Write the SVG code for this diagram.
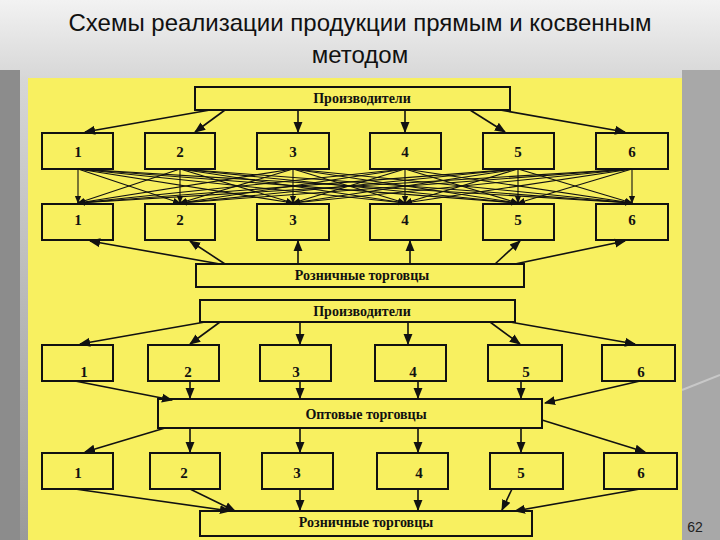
<svg xmlns="http://www.w3.org/2000/svg" width="720" height="540" viewBox="0 0 720 540">
<defs>
<linearGradient id="bg" x1="0" y1="0" x2="0" y2="1"><stop offset="0" stop-color="#f2f2f2"/><stop offset="0.15" stop-color="#d6d6d6"/><stop offset="1" stop-color="#9a9a9a"/></linearGradient>
<marker id="a" viewBox="0 0 10 10" refX="9" refY="5" markerWidth="7" markerHeight="7" orient="auto-start-reverse"><path d="M0,1 L10,5 L0,9 z" fill="#111"/></marker>
<style>
.b{fill:#f8f060;stroke:#111;stroke-width:2}
.t{font-family:"Liberation Serif",serif;font-weight:bold;font-size:14px;fill:#111;text-anchor:middle}
.n{font-family:"Liberation Serif",serif;font-weight:bold;font-size:15px;fill:#111;text-anchor:middle}
.c line{stroke:#111;stroke-width:1.6;marker-end:url(#a)}
.x line{stroke:#111;stroke-width:1.1;marker-end:url(#a)}
</style>
</defs>
<rect width="720" height="540" fill="url(#bg)"/>
<rect x="0" y="70" width="20" height="470" fill="#8c8c8c"/>
<rect x="682" y="70" width="38" height="470" fill="#a8a8a8"/>
<line x1="682" y1="390" x2="720" y2="375" stroke="#c8c8c8" stroke-width="2"/>
<rect x="28" y="78" width="654" height="462" fill="#f8f060"/>
<text x="360" y="31" font-family="Liberation Sans,sans-serif" font-size="24" fill="#111" text-anchor="middle">Схемы реализации продукции прямым и косвенным</text>
<text x="360" y="63" font-family="Liberation Sans,sans-serif" font-size="24" fill="#111" text-anchor="middle">методом</text>
<text x="695" y="532" font-family="Liberation Sans,sans-serif" font-size="14" fill="#222" text-anchor="middle">62</text>

<g id="prod1"><rect class="b" x="195" y="87" width="315" height="23"/><text class="t" x="362" y="103">Производители</text></g>
<g id="r1"><rect class="b" x="42" y="133" width="71" height="36"/><text class="n" x="78" y="157">1</text><rect class="b" x="145" y="133" width="70" height="36"/><text class="n" x="180" y="157">2</text><rect class="b" x="257" y="133" width="72" height="36"/><text class="n" x="293" y="157">3</text><rect class="b" x="370" y="133" width="71" height="36"/><text class="n" x="405" y="157">4</text><rect class="b" x="483" y="133" width="71" height="36"/><text class="n" x="518" y="157">5</text><rect class="b" x="596" y="133" width="72" height="36"/><text class="n" x="632" y="157">6</text></g>
<g id="r2"><rect class="b" x="42" y="204" width="71" height="36"/><text class="n" x="78" y="225">1</text><rect class="b" x="145" y="204" width="70" height="36"/><text class="n" x="180" y="225">2</text><rect class="b" x="257" y="204" width="72" height="36"/><text class="n" x="293" y="225">3</text><rect class="b" x="370" y="204" width="71" height="36"/><text class="n" x="405" y="225">4</text><rect class="b" x="483" y="204" width="71" height="36"/><text class="n" x="518" y="225">5</text><rect class="b" x="596" y="204" width="72" height="36"/><text class="n" x="632" y="225">6</text></g>
<g id="ret1"><rect class="b" x="196" y="264" width="328" height="23"/><text class="t" x="362" y="280">Розничные торговцы</text></g>
<g id="prod2"><rect class="b" x="200" y="300" width="315" height="22"/><text class="t" x="362" y="316">Производители</text></g>
<g id="r3"><rect class="b" x="42" y="345" width="71" height="36"/><text class="n" x="84" y="377">1</text><rect class="b" x="148" y="345" width="71" height="36"/><text class="n" x="188" y="377">2</text><rect class="b" x="260" y="345" width="71" height="36"/><text class="n" x="296" y="377">3</text><rect class="b" x="375" y="345" width="71" height="36"/><text class="n" x="413" y="377">4</text><rect class="b" x="488" y="345" width="74" height="36"/><text class="n" x="526" y="377">5</text><rect class="b" x="602" y="345" width="73" height="36"/><text class="n" x="641" y="377">6</text></g>
<g id="whole"><rect class="b" x="158" y="399" width="384" height="29"/><text class="t" x="366" y="419">Оптовые торговцы</text></g>
<g id="r4"><rect class="b" x="42" y="453" width="71" height="36"/><text class="n" x="78" y="478">1</text><rect class="b" x="150" y="453" width="70" height="36"/><text class="n" x="184" y="478">2</text><rect class="b" x="262" y="453" width="71" height="36"/><text class="n" x="297" y="478">3</text><rect class="b" x="377" y="453" width="71" height="36"/><text class="n" x="419" y="478">4</text><rect class="b" x="490" y="453" width="73" height="36"/><text class="n" x="521" y="478">5</text><rect class="b" x="604" y="453" width="73" height="36"/><text class="n" x="641" y="478">6</text></g>
<g id="ret2"><rect class="b" x="200" y="511" width="332" height="25"/><text class="t" x="366" y="527">Розничные торговцы</text></g>

<g id="connectors">
<g class="c">
<line x1="210" y1="110" x2="85" y2="132"/><line x1="225" y1="110" x2="195" y2="132"/><line x1="298" y1="110" x2="298" y2="132"/><line x1="405" y1="110" x2="405" y2="132"/><line x1="470" y1="110" x2="505" y2="132"/><line x1="500" y1="110" x2="625" y2="132"/>
<line x1="220" y1="264" x2="90" y2="241"/><line x1="225" y1="264" x2="190" y2="241"/><line x1="298" y1="264" x2="298" y2="241"/><line x1="410" y1="264" x2="410" y2="241"/><line x1="495" y1="264" x2="520" y2="241"/><line x1="515" y1="264" x2="625" y2="241"/>
<line x1="205" y1="322" x2="80" y2="344"/><line x1="220" y1="322" x2="190" y2="344"/><line x1="300" y1="322" x2="300" y2="344"/><line x1="408" y1="322" x2="408" y2="344"/><line x1="490" y1="322" x2="520" y2="344"/><line x1="510" y1="322" x2="635" y2="344"/>
<line x1="75" y1="381" x2="172" y2="400"/><line x1="190" y1="381" x2="190" y2="398"/><line x1="300" y1="381" x2="300" y2="398"/><line x1="418" y1="381" x2="418" y2="398"/><line x1="521" y1="381" x2="521" y2="398"/><line x1="640" y1="381" x2="545" y2="403"/>
<line x1="165" y1="428" x2="85" y2="452"/><line x1="190" y1="428" x2="190" y2="452"/><line x1="300" y1="428" x2="300" y2="452"/><line x1="418" y1="428" x2="418" y2="452"/><line x1="521" y1="428" x2="521" y2="452"/><line x1="542" y1="420" x2="645" y2="452"/>
<line x1="75" y1="489" x2="230" y2="511"/><line x1="190" y1="489" x2="235" y2="511"/><line x1="300" y1="489" x2="300" y2="510"/><line x1="418" y1="489" x2="418" y2="510"/><line x1="512" y1="489" x2="502" y2="510"/><line x1="640" y1="489" x2="515" y2="511"/>
</g>
<g class="x">
<line x1="78" y1="169" x2="78" y2="203"/><line x1="78" y1="169" x2="180" y2="203"/><line x1="78" y1="169" x2="293" y2="203"/><line x1="78" y1="169" x2="405" y2="203"/><line x1="78" y1="169" x2="518" y2="203"/><line x1="78" y1="169" x2="632" y2="203"/>
<line x1="180" y1="169" x2="78" y2="203"/><line x1="180" y1="169" x2="180" y2="203"/><line x1="180" y1="169" x2="293" y2="203"/><line x1="180" y1="169" x2="405" y2="203"/><line x1="180" y1="169" x2="518" y2="203"/><line x1="180" y1="169" x2="632" y2="203"/>
<line x1="293" y1="169" x2="78" y2="203"/><line x1="293" y1="169" x2="180" y2="203"/><line x1="293" y1="169" x2="293" y2="203"/><line x1="293" y1="169" x2="405" y2="203"/><line x1="293" y1="169" x2="518" y2="203"/><line x1="293" y1="169" x2="632" y2="203"/>
<line x1="405" y1="169" x2="78" y2="203"/><line x1="405" y1="169" x2="180" y2="203"/><line x1="405" y1="169" x2="293" y2="203"/><line x1="405" y1="169" x2="405" y2="203"/><line x1="405" y1="169" x2="518" y2="203"/><line x1="405" y1="169" x2="632" y2="203"/>
<line x1="518" y1="169" x2="78" y2="203"/><line x1="518" y1="169" x2="180" y2="203"/><line x1="518" y1="169" x2="293" y2="203"/><line x1="518" y1="169" x2="405" y2="203"/><line x1="518" y1="169" x2="518" y2="203"/><line x1="518" y1="169" x2="632" y2="203"/>
<line x1="632" y1="169" x2="78" y2="203"/><line x1="632" y1="169" x2="180" y2="203"/><line x1="632" y1="169" x2="293" y2="203"/><line x1="632" y1="169" x2="405" y2="203"/><line x1="632" y1="169" x2="518" y2="203"/><line x1="632" y1="169" x2="632" y2="203"/>
</g>
</g>
</svg>
